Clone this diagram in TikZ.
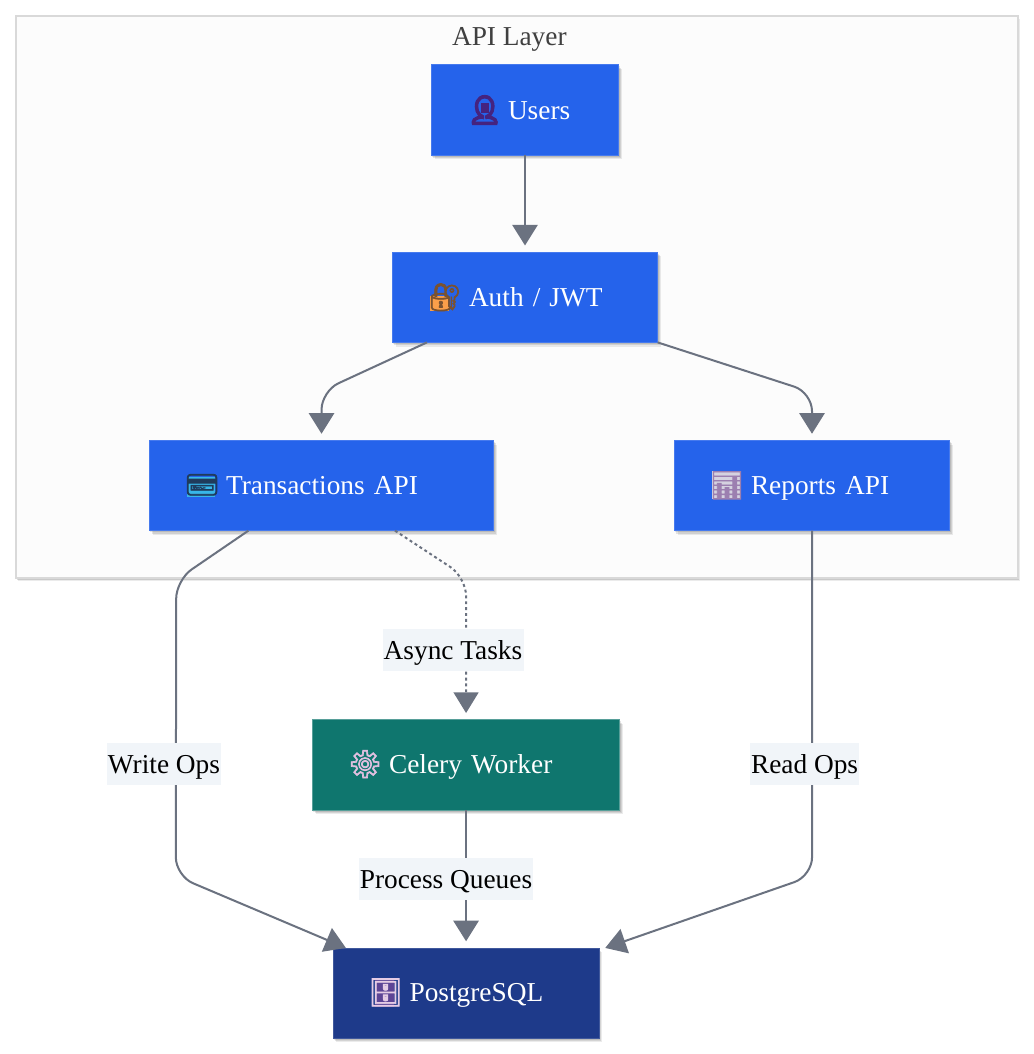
\documentclass[tikz,border=0pt]{standalone}
\usepackage{fontspec}
\setmainfont{Liberation Serif}
\newfontfamily\emojifont[FakeBold=2.5]{Noto Emoji}
\newfontfamily\personfont[FakeBold=9]{Noto Emoji}
\usetikzlibrary{arrows.meta,positioning,shadows,calc}
\definecolor{apiblue}{HTML}{2563EB}
\definecolor{workerteal}{HTML}{0F766E}
\definecolor{dbnavy}{HTML}{1E3A8A}
\definecolor{linegray}{HTML}{6B7280}
\definecolor{lblbg}{HTML}{F1F5F9}
\definecolor{lockorange}{HTML}{FB9F4A}
\definecolor{lockdark}{HTML}{7A5230}
\definecolor{cardcyan}{HTML}{38B6E8}
\definecolor{carddark}{HTML}{1F3B5C}
\definecolor{chartlilac}{HTML}{D5D2E0}
\definecolor{chartbar}{HTML}{9C7FB0}
\definecolor{cabinetviolet}{HTML}{5E4596}
\definecolor{persondark}{HTML}{45237F}
\newcommand{\icon}[2]{\makebox[29pt][l]{\hspace*{-2pt}\emojifont\color{#1}#2}}
\newcommand{\iconbg}[5]{\rlap{\hspace*{#2}\color{#1}\rule[#3]{#4}{#5}}}
\tikzset{softshadow/.style={drop shadow={shadow xshift=0.8pt, shadow yshift=-1.2pt, opacity=0.10, fill=black}, drop shadow={shadow xshift=1.6pt, shadow yshift=-2.2pt, opacity=0.10, fill=black}, drop shadow={shadow xshift=2.4pt, shadow yshift=-3.2pt, opacity=0.08, fill=black}}}
\begin{document}
\begin{tikzpicture}[node distance=73.5pt, every node/.style={font=\fontsize{20.5pt}{24pt}\selectfont}, box/.style={fill=apiblue, draw=apiblue!85!white, line width=0.6pt, outer sep=0pt, text=white, align=left, inner xsep=28.5pt, inner ysep=0pt, minimum height=67.7pt, softshadow}, cluster/.style={fill=black!1, draw=black!15, line width=1.5pt, outer sep=0pt, anchor=north west, minimum width=751.5pt, minimum height=421.5pt, drop shadow={shadow xshift=0.8pt, shadow yshift=-1.2pt, opacity=0.14, fill=black}, drop shadow={shadow xshift=1.4pt, shadow yshift=-2pt, opacity=0.08, fill=black}}, arr/.style={-{Triangle[length=15.5pt,width=19pt]}, draw=linegray, line width=1.5pt, shorten >=5pt}, lbl/.style={fill=lblbg, text=black, inner sep=0pt, minimum height=31pt, text height=17.2pt, text depth=2.6pt}]
\useasboundingbox (0,0) rectangle (775.5pt,-790.5pt);
\fill[white] (0,0) rectangle (775.5pt,-790.5pt);
\node[cluster] (api) at (12pt,-12pt) {};
\node[text=black!75] (title) at (382pt,-29.5pt) {API Layer};
\node[box, text width=83.5pt] (users) at (393.75pt,-82.5pt) {\iconbg{persondark}{8.4pt}{5pt}{6pt}{7pt}\makebox[29pt][l]{\hspace*{-1.5pt}\personfont\color{persondark}👤}Users};
\node[box, text width=142pt, below=72.75pt of users] (auth) {\iconbg{lockorange}{0pt}{-3pt}{14pt}{11pt}\icon{lockdark}{🔐}Auth / JWT};
\node[box, text width=201.25pt, below=of auth, xshift=-152.6pt] (trans) {\iconbg{cardcyan}{-0.5pt}{-2pt}{21pt}{15pt}\icon{carddark}{💳}Transactions API};
\node[box, text width=149.5pt, below=of auth, xshift=215.25pt] (reports) {\iconbg{chartlilac}{-0.5pt}{-3pt}{21pt}{21pt}\icon{chartbar}{📊}Reports API};
\node[box, text width=173.5pt, fill=workerteal, draw=workerteal!70!white, below=141.75pt of trans, xshift=108.4pt] (celery) {\icon{violet!25!white}{⚙}Celery Worker};
\node[box, text width=142.75pt, fill=dbnavy, draw=dbnavy!85!white, below=103.5pt of celery] (post) {\iconbg{cabinetviolet}{3.25pt}{-4pt}{14pt}{20pt}\icon{violet!20!white}{🗄}PostgreSQL};
\draw[arr] (users)--(auth);
\draw[arr, rounded corners=14pt] ([xshift=26pt]auth.south west)--([yshift=37pt]trans.north)--(trans.north);
\draw[arr, rounded corners=14pt] (auth.south east)--([yshift=36pt]reports.north)--(reports.north);
\draw[arr, rounded corners=14pt, dash pattern=on 2.2pt off 2.2pt, -{Triangle[length=15.5pt,width=19pt,line width=0pt]}] ([xshift=-74pt]trans.south east)--([yshift=-35pt,xshift=108.4pt]trans.south)--(celery.north);
\draw[arr, rounded corners=14pt, shorten >=0pt] ([xshift=-184pt]trans.south east)--([yshift=-37pt,xshift=-109pt]trans.south)--([xshift=-217.7pt,yshift=54pt]post.north)--([xshift=9.75pt]post.north west);
\draw[arr, rounded corners=14pt, shorten >=0pt] (reports.south)--([yshift=54pt,xshift=259.5pt]post.north)--([xshift=4.5pt]post.north east);
\draw[arr] (celery)--(post);
\node[lbl, minimum width=105.75pt] (async) at (339.75pt,-487.5pt) {Async Tasks};
\node[lbl, minimum width=85.5pt] (write) at (123pt,-573pt) {Write Ops};
\node[lbl, minimum width=130.5pt] (queues) at (334.5pt,-659.25pt) {Process Queues};
\node[lbl, minimum width=81.75pt] (read) at (603.4pt,-573pt) {Read Ops};
\end{tikzpicture}
\end{document}
